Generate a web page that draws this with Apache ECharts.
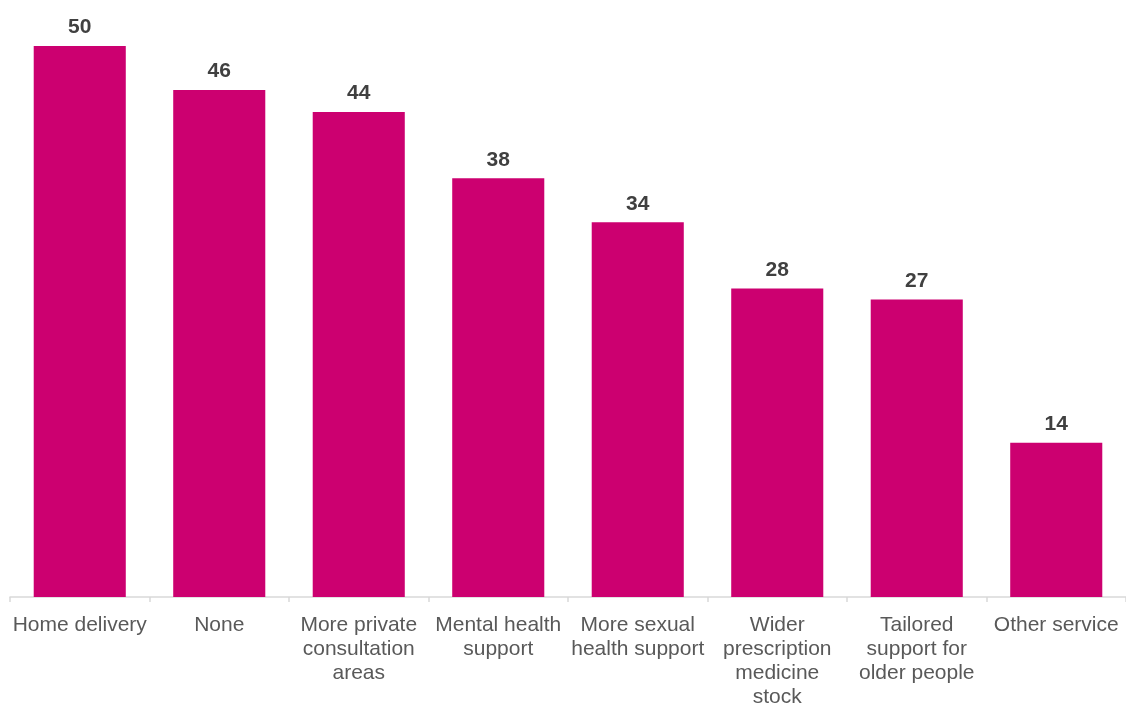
<!DOCTYPE html>
<html>
<head>
<meta charset="utf-8">
<script src="https://cdn.jsdelivr.net/npm/echarts@6/dist/echarts.min.js"></script>
<style>
html,body{margin:0;padding:0;background:#fff;overflow:hidden;width:1126px;height:709px;}
#chart{width:1126px;height:709px;}
</style>
</head>
<body>
<div id="chart"></div>
<script>
const categories = [
  "Home delivery",
  "None",
  "More private\nconsultation\nareas",
  "Mental health\nsupport",
  "More sexual\nhealth support",
  "Wider\nprescription\nmedicine\nstock",
  "Tailored\nsupport for\nolder people",
  "Other service"
];
const values = [50, 46, 44, 38, 34, 28, 27, 14];

const chart = echarts.init(document.getElementById('chart'));
chart.setOption({
  animation: false,
  grid: { left: 10, width: 1122, top: 46, height: 557, containLabel: false },
  xAxis: {
    type: 'category',
    data: categories,
    axisLine: { show: true, lineStyle: { color: '#D9D9D9', width: 1.5 } },
    axisTick: { show: true, length: 5, lineStyle: { color: '#D9D9D9', width: 1.5 } },
    axisLabel: {
      interval: 0,
      color: '#595959',
      fontFamily: 'Liberation Sans, Arial, sans-serif',
      fontSize: 21,
      lineHeight: 24,
      margin: 16
    }
  },
  yAxis: {
    type: 'value',
    min: 0,
    max: 50,
    show: false,
    splitLine: { show: false }
  },
  series: [{
    type: 'bar',
    data: values,
    barWidth: '66%',
    itemStyle: { color: '#CC0070' },
    label: {
      show: true,
      position: 'top',
      distance: 8,
      color: '#404040',
      fontWeight: 'bold',
      fontFamily: 'Liberation Sans, Arial, sans-serif',
      fontSize: 21
    }
  }]
});
</script>
</body>
</html>
